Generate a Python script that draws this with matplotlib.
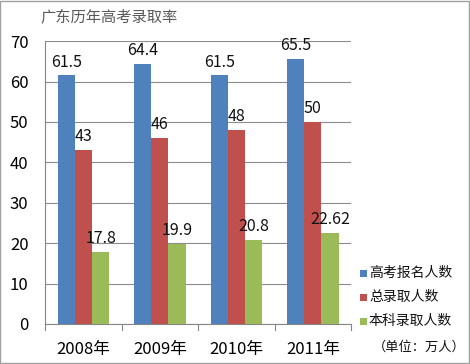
import numpy as np
import matplotlib
matplotlib.use('Agg')
import matplotlib.pyplot as plt
from matplotlib.patches import Rectangle

plt.rcParams['font.family'] = ['Noto Sans CJK SC', 'DejaVu Sans']

# data
years = ['2008年', '2009年', '2010年', '2011年']
applicants = [61.5, 64.4, 61.5, 65.5]
admitted = [43, 46, 48, 50]
undergrad = [17.8, 19.9, 20.8, 22.62]
series_names = ['高考报名人数', '总录取人数', '本科录取人数']
value_labels = [['61.5', '64.4', '61.5', '65.5'],
                ['43', '46', '48', '50'],
                ['17.8', '19.9', '20.8', '22.62']]
colors = ['#4F81BD', '#C0504D', '#9BBB59']

fig = plt.figure(figsize=(4.7, 3.64), dpi=100)
fig.patch.set_facecolor('white')
# outer border
fig.add_artist(Rectangle((0.001, 0.002), 0.997, 0.996, transform=fig.transFigure,
                         fill=False, edgecolor='#a0a0a0', linewidth=1))

ax = fig.add_axes([0.096, 0.110, 0.651, 0.777])

x = np.arange(len(years))
w = 0.225
for i, vals in enumerate([applicants, admitted, undergrad]):
    pos = x + (i - 1) * w
    ax.bar(pos, vals, width=w, color=colors[i], zorder=3)
    for p, v, lab in zip(pos, vals, value_labels[i]):
        ax.text(p, v + 1.2, lab, ha='center', va='bottom', fontsize=11.5, color='#111111', zorder=4)

ax.set_xlim(-0.5, 3.5)
ax.set_ylim(0, 70)
ax.set_yticks(range(0, 71, 10))
ax.set_xticks(x)
ax.set_xticklabels(years, fontsize=12)
ax.tick_params(axis='y', labelsize=12, length=0, pad=12)
ax.tick_params(axis='x', length=0, pad=12)
# category separators below axis
for b in np.arange(-0.5, 4, 1):
    ax.plot([b, b], [0, -1.6], color='#868686', lw=0.8, clip_on=False)
ax.grid(axis='y', color='#8c8c8c', lw=0.8, zorder=0)
for s in ['top', 'right']:
    ax.spines[s].set_visible(False)
ax.spines['left'].set_color('#868686')
ax.spines['bottom'].set_color('#868686')

fig.text(0.085, 0.955, '广东历年高考录取率', fontsize=11, color='#595959', ha='left', va='center')

# legend
ly = [0.250, 0.184, 0.118]
for name, c, yy in zip(series_names, colors, ly):
    fig.add_artist(Rectangle((0.765, yy - 0.011), 0.015, 0.02, transform=fig.transFigure,
                             facecolor=c, edgecolor='none'))
    fig.text(0.785, yy, name, fontsize=10, ha='left', va='center', color='#111111')
fig.text(0.793, 0.046, '（单位：万人）', fontsize=9.5, ha='left', va='center', color='#111111')

fig.savefig('out.png', dpi=100)
